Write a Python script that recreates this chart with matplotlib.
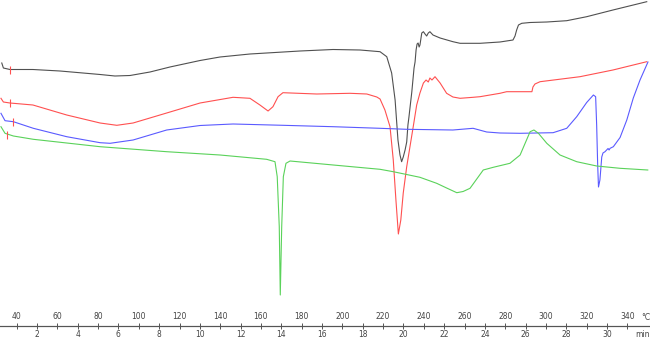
import matplotlib
matplotlib.use("Agg")
import matplotlib.pyplot as plt

plt.rcParams["font.family"] = ["Liberation Sans Narrow", "DejaVu Sans"]

# ------------------ DATA (time in min, signal in a.u.) ------------------
black_t = [0.27, 0.35, 0.67, 1.80, 3.13, 5.10, 5.83, 6.57, 7.55, 8.53, 10.01, 10.99, 12.46,
           14.92, 16.54, 17.87, 18.85, 19.18, 19.42, 19.59, 19.73, 19.83, 19.91, 19.99, 20.08,
           20.16, 20.22, 20.27, 20.32, 20.41, 20.52, 20.57, 20.62, 20.67, 20.72, 20.77, 20.81,
           20.90, 20.98, 21.06, 21.14, 21.22, 21.30, 21.45, 21.80, 22.43, 22.78, 23.76, 24.74,
           25.38, 25.48, 25.56, 25.65, 25.81, 26.22, 27.04, 28.02, 29.00, 30.29, 31.95]
black_y = [267, 262, 260.5, 260.5, 259, 255.5, 254, 254.5, 258, 263, 269.5, 273, 276,
           279, 280.5, 280, 278.3, 273.3, 257, 230, 190, 175, 168.3, 173, 180,
           188, 205, 213, 222, 238, 262, 268, 280, 286, 287, 283, 285,
           297, 298.3, 296, 294, 297, 298.3, 295, 292, 288.3, 286.7, 286.7, 288,
           290, 294, 300, 305, 306.7, 307.5, 308, 309.3, 313.3, 320, 328.3]

red_t = [0.23, 0.35, 0.67, 1.80, 3.46, 5.10, 5.92, 6.72, 8.37, 10.01, 11.63, 12.46, 12.95,
         13.35, 13.59, 13.84, 14.08, 15.74, 17.38, 18.20, 18.69, 18.85, 19.09, 19.34, 19.50,
         19.63, 19.75, 19.87, 19.99, 20.16, 20.32, 20.48, 20.65, 20.81, 20.98, 21.11, 21.22,
         21.30, 21.40, 21.55, 21.80, 22.12, 22.43, 22.78, 23.42, 23.76, 24.74, 25.07, 26.31,
         26.36, 26.46, 26.71, 28.67, 30.29, 31.95]
red_y = [231.7, 228, 227, 225, 215, 207, 204.7, 207, 217, 227, 232.7, 231.7, 225,
         219, 223.3, 233.3, 237.3, 236, 236.7, 236, 233, 231, 220, 203.3, 170,
         130, 96, 110, 137, 163.3, 183.3, 203.3, 225, 237, 247, 250, 248,
         252, 250, 253.3, 247, 236.7, 233, 231.7, 232.7, 233.3, 236.7, 238.3, 238.3,
         243, 246, 248.3, 253.3, 260, 268.3]

blue_t = [0.23, 0.43, 0.84, 1.82, 3.46, 5.10, 5.59, 6.72, 8.37, 10.01, 11.63, 14.08, 16.54,
          18.85, 20.16, 22.43, 23.42, 24.09, 24.74, 25.73, 27.35, 28.02, 28.51, 29.00, 29.33,
          29.44, 29.49, 29.54, 29.58, 29.65, 29.74, 29.80, 29.90, 30.05, 30.10, 30.15, 30.31,
          30.64, 30.97, 31.29, 31.62, 32.01]
blue_y = [216.7, 209.3, 208.3, 201.7, 193.3, 187.3, 186.7, 190, 200, 204.5, 206, 204.7, 203.3,
          201.7, 200.7, 200, 201.7, 198, 197, 196.7, 197.3, 201.7, 213.3, 227.5, 235,
          233.3, 205, 165, 143, 150, 173, 177, 178.3, 181.5, 180, 181.7, 183.3,
          192.5, 210, 232, 250, 268]

green_t = [0.23, 0.43, 0.84, 1.82, 5.10, 8.37, 10.99, 13.28, 13.69, 13.80, 13.90, 13.95, 14.02,
           14.10, 14.23, 14.43, 16.55, 18.85, 19.50, 20.81, 21.63, 22.12, 22.62, 22.93, 23.27,
           23.92, 24.41, 25.23, 25.73, 26.22, 26.41, 26.63, 27.04, 27.69, 28.51, 29.49, 30.64,
           32.00]
green_y = [203.3, 196.7, 194, 190.7, 183.3, 178.3, 175, 170.7, 168.3, 153.3, 103.3, 35, 103.3,
           153.3, 166.7, 169, 165, 160.7, 158.3, 152.7, 146.7, 142, 137.3, 138.5, 141.7,
           160, 162.7, 166.7, 175, 198.3, 200, 196.7, 186.7, 175, 168.3, 164, 161.7,
           160]

# start markers on each curve
start_t = [0.67, 0.67, 0.84, 0.53]
start_y = [260.5, 227, 208.3, 195.5]

min_ticks = list(range(2, 31, 2))
temp_ticks = list(range(40, 341, 20))

fig = plt.figure(figsize=(6.5, 3.39), dpi=100)
ax = fig.add_axes([0, 0, 1, 1])

ax.plot(black_t, black_y, color="#505050", lw=0.8)
ax.plot(red_t, red_y, color="#ff5050", lw=0.8)
ax.plot(blue_t, blue_y, color="#5a5aff", lw=0.8)
ax.plot(green_t, green_y, color="#5ad25a", lw=0.8)
ax.plot(start_t, start_y, ls="none", marker="|", ms=6, mew=0.8, color="#ff5050")

ax.set_xlim(0.183, 32.11)
ax.set_ylim(-9, 330)

# time axis drawn near the bottom
axis_pos = 13 / 339
for s in ["top", "left", "right"]:
    ax.spines[s].set_visible(False)
ax.spines["bottom"].set_position(("axes", axis_pos))
ax.spines["bottom"].set_color("#555555")
ax.spines["bottom"].set_linewidth(0.8)
ax.set_yticks([])
ax.set_xticks(min_ticks)
ax.tick_params(axis="x", direction="inout", length=4.3, width=0.7, colors="#555555",
               labelsize=5.5, pad=1.0, labelcolor="#444444")

# temperature scale on the same line
sec = ax.secondary_xaxis(axis_pos, functions=(lambda t: 30 + 10 * t, lambda T: (T - 30) / 10))
sec.set_alignment("top")
sec.set_xticks(temp_ticks)
sec.spines["top"].set_color("#555555")
sec.spines["top"].set_linewidth(0.8)
sec.tick_params(axis="x", direction="inout", length=4.3, width=0.7, colors="#555555",
                labelsize=5.5, pad=1.3, labelcolor="#444444")

ax.text(0.994, 0.064, "°C", transform=ax.transAxes, fontsize=5.5, color="#444444",
        ha="center", va="center")
ax.text(0.989, 0.012, "min", transform=ax.transAxes, fontsize=5.5, color="#444444",
        ha="center", va="center")

fig.savefig("out.png", dpi=100)
